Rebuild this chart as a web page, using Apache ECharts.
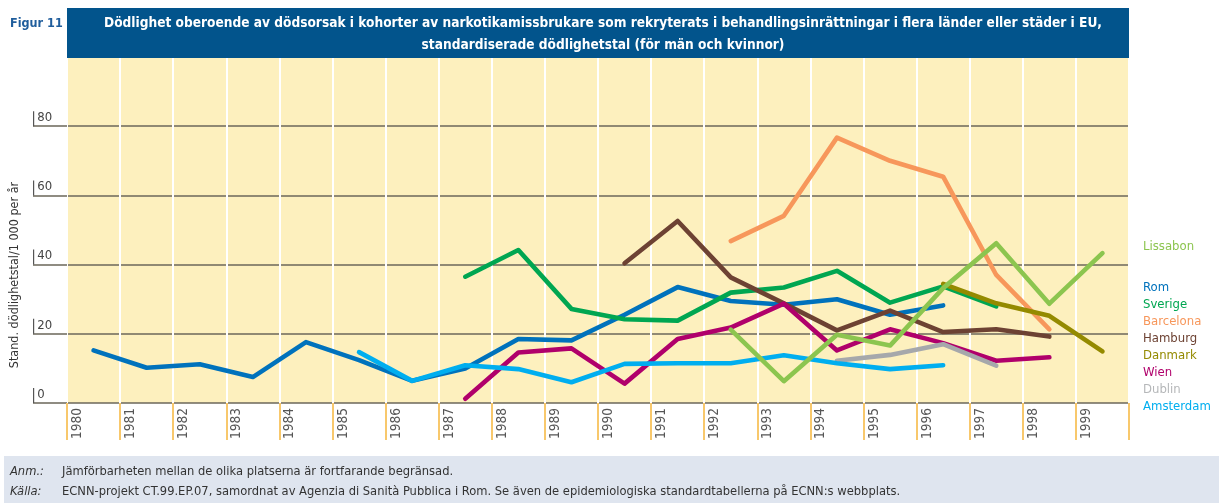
<!DOCTYPE html>
<html>
<head>
<meta charset="utf-8">
<script src="https://cdn.jsdelivr.net/npm/echarts@6/dist/echarts.min.js"></script>
<style>
  html, body { margin: 0; padding: 0; background: #fff; }
  #chart { width: 1219px; height: 503px; }
</style>
</head>
<body>
<div id="chart"></div>
<script>
// years on the x axis
const years = ['1980', '1981', '1982', '1983', '1984', '1985', '1986', '1987', '1988', '1989',
  '1990', '1991', '1992', '1993', '1994', '1995', '1996', '1997', '1998', '1999']
const yTicks = [0, 20, 40, 60, 80]

// standardiserade dödlighetstal per stad / land
const rom = [15.2, 10.2, 11.2, 7.5, 17.6, 12.4, 6.4, 10, 18.5, 18.1, 25.5, 33.5, 29.5, 28.4, 30, 25.5, 28.2, null, null, null]
const sverige = [null, null, null, null, null, null, null, 36.5, 44.2, 27.2, 24.2, 23.8, 31.9, 33.4, 38.2, 29, 33.7, 27.9, null, null]
const barcelona = [null, null, null, null, null, null, null, null, null, null, null, null, 46.8, 54.1, 76.7, 70, 65.4, 37, 21.3, null]
const hamburg = [null, null, null, null, null, null, null, null, null, null, 40.4, 52.6, 36.3, 28.8, 21, 26.7, 20.5, 21.3, 19.2, null]
const wien = [null, null, null, null, null, null, null, 1.2, 14.6, 15.8, 5.6, 18.5, 21.8, 28.7, 15.2, 21.3, 17.3, 12.2, 13.2, null]
const dublin = [null, null, null, null, null, null, null, null, null, null, null, null, null, null, 12.2, 13.9, 17, 10.8, null, null]
const amsterdam = [null, null, null, null, null, 14.7, 6.4, 10.9, 9.8, 6, 11.3, 11.5, 11.5, 13.8, 11.5, 9.8, 10.9, null, null, null]
const danmark = [null, null, null, null, null, null, null, null, null, null, null, null, null, null, null, null, 34.4, 28.8, 25.2, 14.9]
const lissabon = [null, null, null, null, null, null, null, null, null, null, null, null, 21.2, 6.3, 19.7, 16.6, 33.2, 46.2, 28.7, 43.3]

const font = "'Liberation Sans Narrow', 'DejaVu Sans Condensed', 'Liberation Sans', sans-serif"

// namn, data, färg (ritordning)
const lines = [
  ['Rom', rom, '#0072bc'],
  ['Sverige', sverige, '#00a651'],
  ['Barcelona', barcelona, '#f7975b'],
  ['Hamburg', hamburg, '#6d4233'],
  ['Wien', wien, '#b0006b'],
  ['Dublin', dublin, '#a6a8ab'],
  ['Amsterdam', amsterdam, '#00aeef'],
  ['Danmark', danmark, '#948a00'],
  ['Lissabon', lissabon, '#8cc54f']
]
const colorOf = {}
lines.forEach(l => { colorOf[l[0]] = l[2] })
colorOf['Dublin-text'] = '#b5b7b9'
const legendOrder = ['Rom', 'Sverige', 'Barcelona', 'Hamburg', 'Danmark', 'Wien', 'Dublin', 'Amsterdam']

const chart = echarts.init(document.getElementById('chart'))

const option = {
  animation: false,
  backgroundColor: '#fff',
  textStyle: { fontFamily: font },
  graphic: [
    // titelruta
    { type: 'rect', left: 67, top: 8, z: 100, shape: { width: 1062, height: 50 }, style: { fill: '#02548c' } },
    // fotnotsruta
    { type: 'rect', left: 4, top: 456, z: 100, shape: { width: 1215, height: 47 }, style: { fill: '#dfe5ef' } }
  ],
  title: [
    {
      text: 'Dödlighet oberoende av dödsorsak i kohorter av narkotikamissbrukare som rekryterats i behandlingsinrättningar i flera länder eller städer i EU,\nstandardiserade dödlighetstal (för män och kvinnor)',
      left: 598,
      top: 8,
      textAlign: 'center',
      z: 110,
      textStyle: { color: '#fff', fontSize: 13.6, fontWeight: 'bold', lineHeight: 21.5, fontFamily: font }
    },
    {
      text: 'Figur 11',
      left: 5,
      top: 12,
      textStyle: { color: '#1f5d9c', fontSize: 12.5, fontWeight: 'bold', fontFamily: font }
    },
    {
      text: '{i|Anm.:}Jämförbarheten mellan de olika platserna är fortfarande begränsad.\n{i|Källa:}ECNN-projekt CT.99.EP.07, samordnat av Agenzia di Sanità Pubblica i Rom. Se även de epidemiologiska standardtabellerna på ECNN:s webbplats.',
      left: 5,
      top: 457,
      z: 110,
      textStyle: {
        color: '#333', fontSize: 12.8, fontWeight: 'normal', lineHeight: 20, fontFamily: font,
        rich: { i: { fontStyle: 'italic', fontWeight: 'normal', width: 52, fontSize: 12.8, fontFamily: font, color: '#333' } }
      }
    }
  ],
  legend: [
    {
      data: [{ name: 'Lissabon', textStyle: { color: colorOf['Lissabon'] } }],
      orient: 'vertical',
      left: 1133,
      top: 234,
      icon: 'none',
      itemWidth: 0,
      itemHeight: 10,
      textStyle: { fontSize: 13, lineHeight: 15, fontFamily: font }
    },
    {
      data: legendOrder.map(n => ({ name: n, textStyle: { color: n === 'Dublin' ? colorOf['Dublin-text'] : colorOf[n] } })),
      orient: 'vertical',
      left: 1133,
      top: 275,
      icon: 'none',
      itemWidth: 0,
      itemHeight: 10,
      itemGap: 2,
      textStyle: { fontSize: 13, lineHeight: 15, fontFamily: font }
    }
  ],
  tooltip: { trigger: 'axis' },
  grid: {
    left: 67,
    right: 90,
    top: 57,
    bottom: 100,
    show: true,
    borderWidth: 0,
    backgroundColor: '#fdf0be'
  },
  xAxis: {
    type: 'category',
    data: years,
    boundaryGap: true,
    axisLine: { show: false },
    axisTick: {
      show: true,
      interval: 0,
      length: 37,
      lineStyle: { color: '#f8c86c', width: 2 }
    },
    axisLabel: {
      interval: 0,
      rotate: 90,
      margin: 5,
      fontSize: 13.5,
      color: '#555',
      verticalAlign: 'bottom',
      padding: [0, 0, 9, 0]
    },
    splitLine: {
      show: true,
      interval: 0,
      lineStyle: { color: '#fff', width: 2 }
    }
  },
  yAxis: {
    type: 'value',
    min: 0,
    max: 100,
    interval: 20,
    name: 'Stand. dödlighetstal/1 000 per år',
    nameLocation: 'middle',
    nameGap: 46,
    nameRotate: 90,
    nameTextStyle: { fontSize: 12.5, color: '#333', padding: [0, 90, 0, 0] },
    axisLine: { show: false },
    axisTick: {
      show: true,
      customValues: yTicks,
      length: 34,
      lineStyle: { color: '#6b675a', width: 1.5 }
    },
    axisLabel: {
      customValues: yTicks,
      align: 'left',
      margin: 34,
      verticalAlign: 'bottom',
      formatter: v => '{b|}{t|' + v + '}',
      rich: {
        b: { width: 1.2, height: 15, backgroundColor: '#555' },
        t: { fontSize: 13, color: '#444', padding: [0, 0, 2, 3], fontFamily: font }
      }
    },
    splitLine: {
      show: true,
      lineStyle: { color: '#6b675a', width: 1.5 }
    }
  },
  series: lines.map(l => ({
    name: l[0],
    type: 'line',
    data: l[1],
    symbol: 'none',
    color: l[2],
    lineStyle: { width: 4.6, color: l[2], cap: 'round', join: 'round' },
    emphasis: { disabled: true }
  }))
}

chart.setOption(option)
</script>
</body>
</html>
